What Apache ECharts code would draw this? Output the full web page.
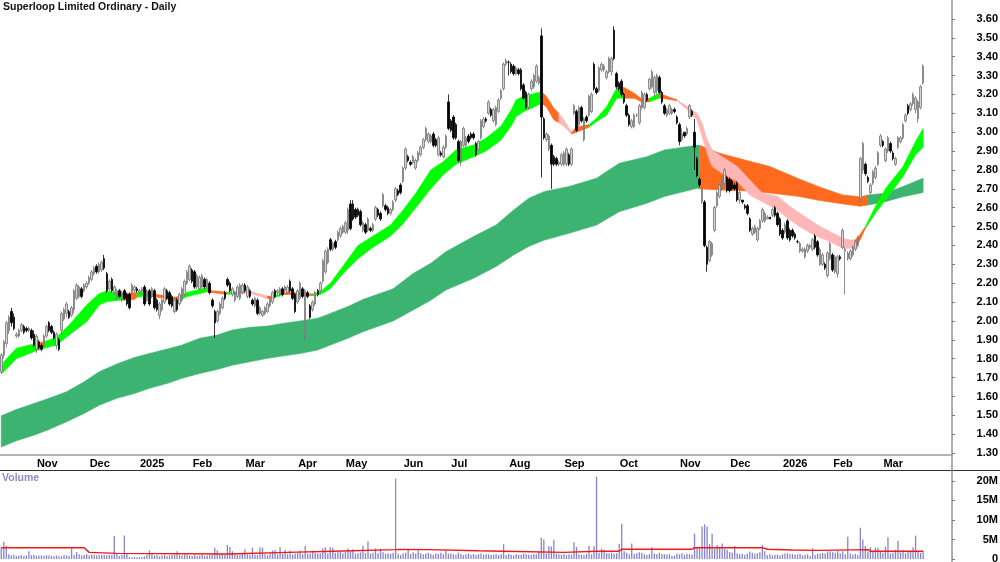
<!DOCTYPE html>
<html>
<head>
<meta charset="utf-8">
<style>html,body{margin:0;padding:0;background:#fff}#chart{width:1000px;height:562px}</style>
<script src="https://cdn.jsdelivr.net/npm/echarts@6/dist/echarts.min.js"></script>
</head>
<body>
<div id="chart"></div>
<script>
const monthLabels = ['Nov','Dec','2025','Feb','Mar','Apr','May','Jun','Jul','Aug','Sep','Oct','Nov','Dec','2026','Feb','Mar']
const monthBars = [13,34,54,75,96,117,136,159,178,201,223,245,269,289,310,330,350]
const priceTicks = [1.3,1.4,1.5,1.6,1.7,1.8,1.9,2.0,2.1,2.2,2.3,2.4,2.5,2.6,2.7,2.8,2.9,3.0,3.1,3.2,3.3,3.4,3.5,3.6]
const volumeTicks = [0,5,10,15,20]

// price bars, 20 a line
const opens = [
1.73,1.82,1.88,1.95,2.05,2.02,1.92,1.92,1.95,1.97,1.96,1.95,1.95,1.93,1.85,1.89,1.87,1.87,1.92,1.99,
1.97,1.94,1.87,1.90,1.95,2.01,2.04,2.05,2.03,2.06,2.12,2.13,2.17,2.16,2.18,2.20,2.22,2.25,2.29,2.26,
2.27,2.33,2.25,2.17,2.22,2.15,2.12,2.16,2.11,2.16,2.14,2.14,2.15,2.16,2.17,2.15,2.16,2.18,2.11,2.16,
2.13,2.16,2.11,2.03,2.06,2.10,2.16,2.15,2.13,2.05,2.11,2.09,2.11,2.14,2.20,2.22,2.27,2.26,2.18,2.17,
2.18,2.22,2.18,2.20,2.11,2.05,2.00,2.04,2.07,2.15,2.22,2.20,2.14,2.11,2.13,2.12,2.15,2.19,2.13,2.16,
2.11,2.08,2.11,2.04,2.03,2.04,2.05,2.08,2.10,2.16,2.15,2.14,2.17,2.16,2.15,2.21,2.17,2.14,2.10,2.12,
2.17,1.91,2.15,2.08,2.06,2.09,2.16,2.16,2.21,2.26,2.31,2.43,2.38,2.42,2.43,2.45,2.47,2.47,2.48,2.62,
2.62,2.59,2.59,2.58,2.48,2.51,2.48,2.49,2.48,2.54,2.59,2.57,2.61,2.61,2.60,2.57,2.59,2.64,2.69,2.72,
2.74,2.81,2.87,2.84,2.84,2.81,2.85,2.88,2.92,2.96,2.95,2.95,2.99,2.96,2.88,2.89,2.87,2.92,3.16,3.06,
3.08,3.04,2.95,2.84,2.93,2.93,2.98,2.99,2.99,2.94,2.91,2.97,3.03,3.07,3.10,3.12,3.06,3.04,3.11,3.18,
3.23,3.36,3.37,3.36,3.35,3.31,3.33,3.33,3.25,3.21,3.13,3.23,3.24,3.27,3.26,3.51,3.07,2.96,2.91,2.93,
2.87,2.86,2.83,2.83,2.83,2.83,2.88,2.83,3.10,3.11,3.04,3.13,2.96,3.08,3.09,3.11,3.36,3.23,3.22,3.33,
3.33,3.29,3.32,3.32,3.54,3.31,3.26,3.27,3.20,3.14,3.09,3.03,3.03,3.09,3.05,3.13,3.13,3.20,3.23,3.24,
3.21,3.22,3.29,3.21,3.14,3.09,3.10,3.10,3.12,3.08,3.04,2.96,3.00,2.99,3.08,3.11,3.00,2.86,2.75,2.63,
2.63,2.39,2.32,2.35,2.48,2.61,2.66,2.70,2.73,2.76,2.75,2.74,2.72,2.73,2.64,2.64,2.61,2.61,2.54,2.46,
2.47,2.43,2.49,2.53,2.53,2.54,2.55,2.56,2.60,2.57,2.54,2.48,2.47,2.53,2.48,2.48,2.46,2.42,2.37,2.37,
2.34,2.37,2.39,2.38,2.45,2.42,2.30,2.30,2.30,2.24,2.33,2.35,2.26,2.25,2.34,2.39,2.37,2.33,2.33,2.35,
2.38,2.40,2.65,2.80,2.83,2.76,2.68,2.73,2.76,2.83,2.93,2.95,2.85,2.90,2.94,2.89,2.83,2.92,2.95,2.97,
3.06,3.14,3.12,3.15,3.12,3.07,3.13,3.26]
const highs = [
1.83,1.90,2.00,2.03,2.07,2.04,1.94,1.96,1.99,1.98,1.97,1.97,1.96,1.95,1.93,1.90,1.88,1.93,1.98,2.00,
1.98,1.95,1.94,1.91,2.05,2.07,2.10,2.06,2.08,2.17,2.20,2.19,2.18,2.20,2.21,2.24,2.27,2.29,2.30,2.31,
2.32,2.35,2.26,2.22,2.23,2.19,2.17,2.17,2.16,2.17,2.15,2.15,2.20,2.19,2.18,2.17,2.18,2.19,2.17,2.17,
2.18,2.17,2.12,2.10,2.12,2.18,2.17,2.16,2.14,2.12,2.12,2.15,2.18,2.22,2.27,2.30,2.28,2.27,2.25,2.24,
2.25,2.23,2.23,2.21,2.12,2.06,2.06,2.10,2.13,2.16,2.23,2.21,2.18,2.16,2.19,2.20,2.20,2.20,2.19,2.17,
2.12,2.13,2.12,2.08,2.06,2.08,2.10,2.13,2.16,2.17,2.17,2.18,2.18,2.19,2.19,2.22,2.18,2.15,2.17,2.21,
2.18,2.17,2.16,2.09,2.11,2.16,2.17,2.21,2.33,2.38,2.39,2.44,2.42,2.43,2.48,2.50,2.51,2.53,2.60,2.64,
2.64,2.60,2.60,2.59,2.53,2.52,2.55,2.50,2.52,2.61,2.60,2.58,2.68,2.62,2.61,2.60,2.64,2.71,2.70,2.73,
2.82,2.92,2.88,2.85,2.88,2.86,2.90,2.93,2.97,3.03,3.00,2.99,3.00,2.97,2.98,2.90,2.93,2.99,3.20,3.07,
3.09,3.05,2.96,2.96,3.03,2.98,2.99,3.00,3.00,2.95,2.96,3.07,3.08,3.08,3.17,3.13,3.13,3.14,3.18,3.23,
3.37,3.39,3.38,3.37,3.36,3.35,3.34,3.34,3.26,3.22,3.21,3.28,3.31,3.36,3.30,3.55,3.08,3.00,2.99,2.94,
2.88,2.87,2.85,2.89,2.90,2.92,2.89,2.92,3.15,3.12,3.14,3.14,3.08,3.09,3.20,3.21,3.37,3.24,3.35,3.37,
3.36,3.33,3.40,3.40,3.56,3.32,3.27,3.28,3.21,3.15,3.10,3.07,3.10,3.10,3.15,3.22,3.21,3.21,3.29,3.33,
3.30,3.31,3.30,3.22,3.15,3.13,3.15,3.13,3.13,3.09,3.05,3.02,3.00,3.03,3.15,3.12,3.07,2.87,2.76,2.71,
2.64,2.40,2.43,2.42,2.61,2.69,2.73,2.77,2.81,2.77,2.76,2.75,2.73,2.74,2.69,2.64,2.62,2.62,2.55,2.50,
2.51,2.50,2.54,2.60,2.58,2.56,2.55,2.60,2.61,2.58,2.55,2.49,2.52,2.54,2.49,2.49,2.47,2.43,2.42,2.39,
2.39,2.41,2.41,2.44,2.46,2.43,2.39,2.36,2.31,2.37,2.42,2.36,2.35,2.35,2.35,2.49,2.39,2.37,2.38,2.40,
2.43,2.45,2.87,2.95,2.84,2.77,2.73,2.80,2.82,2.90,2.99,2.96,2.92,2.98,2.95,2.90,2.87,2.98,2.98,3.05,
3.10,3.15,3.16,3.21,3.19,3.17,3.25,3.36]
const lows = [
1.72,1.80,1.86,1.93,1.97,1.95,1.91,1.91,1.94,1.93,1.94,1.94,1.90,1.86,1.83,1.85,1.84,1.86,1.91,1.94,
1.93,1.90,1.85,1.84,1.93,2.00,2.02,2.01,2.02,2.04,2.11,2.12,2.12,2.15,2.17,2.19,2.21,2.24,2.25,2.25,
2.26,2.27,2.15,2.16,2.15,2.14,2.11,2.12,2.10,2.11,2.08,2.06,2.14,2.15,2.15,2.14,2.15,2.08,2.10,2.08,
2.12,2.06,2.05,2.01,2.05,2.09,2.11,2.08,2.07,2.04,2.05,2.08,2.10,2.13,2.19,2.21,2.20,2.17,2.17,2.16,
2.17,2.17,2.17,2.14,2.07,1.91,1.99,2.03,2.06,2.11,2.18,2.15,2.13,2.10,2.12,2.11,2.14,2.15,2.12,2.12,
2.08,2.07,2.03,2.03,2.02,2.03,2.04,2.07,2.09,2.12,2.14,2.13,2.13,2.15,2.14,2.15,2.11,2.04,2.09,2.11,
2.12,1.90,2.12,2.01,2.05,2.08,2.13,2.15,2.20,2.25,2.30,2.37,2.37,2.38,2.42,2.44,2.46,2.46,2.46,2.48,
2.53,2.54,2.55,2.50,2.47,2.46,2.47,2.47,2.47,2.53,2.55,2.53,2.60,2.58,2.56,2.56,2.58,2.63,2.66,2.67,
2.73,2.80,2.84,2.82,2.83,2.80,2.84,2.87,2.91,2.95,2.94,2.94,2.92,2.92,2.87,2.87,2.86,2.91,3.01,3.00,
2.96,2.96,2.84,2.82,2.92,2.92,2.94,2.96,2.96,2.87,2.90,2.96,3.02,3.05,3.09,3.08,3.05,3.03,3.10,3.17,
3.22,3.35,3.30,3.31,3.30,3.30,3.30,3.22,3.17,3.12,3.12,3.22,3.23,3.26,3.25,2.76,2.96,2.95,2.90,2.70,
2.82,2.82,2.82,2.82,2.82,2.82,2.82,2.82,3.09,3.00,3.03,3.05,2.95,3.05,3.08,3.10,3.22,3.20,3.21,3.32,
3.32,3.28,3.31,3.30,3.38,3.23,3.22,3.19,3.15,3.08,3.03,3.02,3.02,3.08,3.04,3.12,3.12,3.16,3.22,3.23,
3.19,3.20,3.20,3.15,3.09,3.08,3.09,3.09,3.10,3.04,2.93,2.95,2.97,2.98,3.07,3.08,2.80,2.76,2.71,2.62,
2.39,2.26,2.31,2.34,2.47,2.60,2.65,2.69,2.72,2.68,2.68,2.69,2.69,2.63,2.62,2.62,2.59,2.56,2.47,2.45,
2.46,2.42,2.48,2.52,2.52,2.54,2.54,2.55,2.55,2.50,2.45,2.43,2.46,2.43,2.42,2.44,2.43,2.41,2.36,2.36,
2.33,2.36,2.38,2.37,2.38,2.34,2.29,2.29,2.27,2.23,2.32,2.26,2.25,2.23,2.32,2.38,2.14,2.32,2.32,2.34,
2.37,2.39,2.63,2.78,2.77,2.73,2.67,2.72,2.75,2.82,2.92,2.92,2.84,2.89,2.89,2.85,2.82,2.91,2.94,2.96,
3.05,3.09,3.11,3.14,3.10,3.05,3.12,3.25]
const closes = [
1.82,1.89,1.99,2.02,1.99,1.96,1.93,1.95,1.98,1.94,1.95,1.96,1.91,1.87,1.92,1.86,1.85,1.92,1.97,1.95,
1.94,1.91,1.93,1.85,2.04,2.06,2.09,2.02,2.07,2.16,2.19,2.18,2.13,2.19,2.20,2.23,2.26,2.28,2.26,2.30,
2.31,2.28,2.16,2.21,2.16,2.18,2.16,2.13,2.15,2.12,2.09,2.07,2.19,2.18,2.16,2.16,2.17,2.09,2.16,2.09,
2.17,2.07,2.06,2.09,2.11,2.17,2.12,2.09,2.08,2.11,2.06,2.14,2.17,2.21,2.26,2.29,2.21,2.18,2.24,2.23,
2.24,2.18,2.22,2.15,2.08,1.99,2.05,2.09,2.12,2.12,2.19,2.16,2.17,2.15,2.18,2.19,2.19,2.16,2.18,2.13,
2.09,2.12,2.04,2.07,2.05,2.07,2.09,2.12,2.15,2.13,2.16,2.17,2.14,2.18,2.18,2.16,2.12,2.05,2.16,2.20,
2.13,2.16,2.13,2.02,2.10,2.15,2.14,2.20,2.32,2.37,2.38,2.38,2.41,2.39,2.47,2.49,2.50,2.52,2.59,2.49,
2.54,2.55,2.56,2.51,2.52,2.47,2.54,2.48,2.51,2.60,2.56,2.54,2.67,2.59,2.57,2.59,2.63,2.70,2.67,2.68,
2.81,2.91,2.85,2.83,2.87,2.85,2.89,2.92,2.96,3.02,2.99,2.98,2.93,2.93,2.97,2.88,2.92,2.98,3.02,3.01,
2.97,2.97,2.85,2.95,3.02,2.97,2.95,2.97,2.97,2.88,2.95,3.06,3.07,3.06,3.16,3.09,3.12,3.13,3.17,3.22,
3.36,3.38,3.37,3.32,3.31,3.34,3.31,3.23,3.18,3.13,3.20,3.27,3.30,3.35,3.29,3.08,2.97,2.99,2.98,2.83,
2.83,2.83,2.84,2.88,2.89,2.91,2.83,2.91,3.14,3.01,3.13,3.06,3.07,3.06,3.19,3.20,3.23,3.21,3.34,3.36,
3.35,3.32,3.39,3.39,3.39,3.24,3.23,3.20,3.16,3.09,3.04,3.06,3.09,3.09,3.14,3.21,3.20,3.17,3.28,3.32,
3.29,3.30,3.21,3.16,3.10,3.12,3.14,3.12,3.11,3.05,2.95,2.99,2.98,3.02,3.14,3.09,2.92,2.77,2.72,2.70,
2.40,2.30,2.42,2.41,2.60,2.68,2.72,2.76,2.80,2.69,2.69,2.70,2.70,2.64,2.68,2.63,2.60,2.57,2.48,2.49,
2.50,2.49,2.53,2.59,2.57,2.55,2.54,2.59,2.56,2.51,2.46,2.44,2.51,2.44,2.43,2.45,2.44,2.42,2.41,2.38,
2.38,2.40,2.40,2.43,2.39,2.35,2.38,2.35,2.28,2.36,2.41,2.27,2.34,2.34,2.33,2.48,2.38,2.36,2.37,2.39,
2.42,2.44,2.86,2.94,2.78,2.74,2.72,2.79,2.81,2.89,2.98,2.93,2.91,2.97,2.90,2.86,2.86,2.97,2.97,3.04,
3.09,3.10,3.15,3.20,3.18,3.16,3.24,3.35]

const volumes = [
3.0,4.4,3.4,1.2,0.9,1.1,0.8,0.9,1.0,0.8,0.9,2.0,1.0,1.1,0.8,0.9,0.9,0.8,1.0,0.9,
0.8,0.7,0.9,0.8,0.7,1.0,0.9,0.8,2.7,1.0,1.8,1.2,0.9,1.0,1.2,0.9,1.1,1.0,0.9,1.0,
1.1,1.0,0.9,1.1,1.0,5.9,1.2,0.8,1.0,6.0,1.4,0.5,0.4,0.5,0.4,0.5,0.6,0.7,1.0,2.2,
1.2,0.9,1.0,0.7,0.9,1.1,0.8,0.9,1.0,1.1,2.0,1.0,0.9,1.2,1.0,0.9,0.8,1.1,0.8,0.9,
1.0,0.8,0.9,1.0,1.1,2.9,2.2,1.1,1.3,1.0,3.6,3.1,2.0,1.2,1.0,1.1,1.3,2.5,1.2,1.0,
2.9,1.1,1.0,3.0,2.9,1.2,1.0,1.4,2.2,2.3,1.2,3.1,1.3,2.3,1.2,2.1,1.1,1.4,1.5,2.1,
1.2,3.3,1.3,1.4,2.2,1.6,1.4,1.5,2.7,3.0,1.5,3.0,2.8,1.6,1.7,1.8,1.5,1.8,2.7,2.0,
2.5,1.4,1.5,1.7,3.4,1.5,4.5,1.4,1.6,2.7,1.5,2.6,1.7,1.4,1.5,1.3,1.6,20.6,1.4,1.0,
1.5,1.6,2.4,1.3,1.7,1.4,2.2,1.5,1.2,1.4,1.6,1.3,1.1,1.5,1.3,1.6,1.2,2.2,1.4,1.5,
1.2,1.1,1.6,1.3,1.0,1.2,1.4,1.1,1.3,1.0,1.2,1.4,1.1,1.3,1.2,1.0,1.1,1.3,1.0,1.2,
3.8,1.0,1.3,1.1,0.9,1.2,1.0,1.1,1.4,1.2,1.1,1.0,1.3,1.2,1.9,5.5,5.0,1.4,3.3,3.2,
4.9,1.4,1.2,1.1,1.3,1.0,1.2,1.1,4.3,3.1,1.2,1.1,1.0,1.3,3.3,1.2,3.3,21.1,1.6,2.7,
2.4,1.5,1.4,1.6,1.3,1.5,3.9,9.0,2.0,1.6,1.2,4.0,1.3,1.5,1.7,1.6,1.2,1.0,1.2,3.0,
1.4,1.2,1.6,1.3,1.2,1.1,1.3,0.8,0.9,1.4,1.2,1.5,1.0,1.3,1.2,1.1,6.5,2.8,2.7,8.3,
8.9,8.3,3.8,6.5,2.6,3.6,2.8,4.0,2.6,2.4,1.8,1.6,3.3,1.5,1.2,1.3,1.1,1.4,1.9,1.6,
1.3,1.5,1.7,3.6,2.0,1.0,1.2,0.9,1.0,1.1,0.9,1.2,1.4,1.5,1.2,1.3,1.1,1.2,1.3,0.9,
1.0,1.2,0.8,2.7,1.0,1.3,1.4,1.6,1.5,1.9,2.0,1.7,1.6,2.1,1.5,2.0,1.2,5.7,1.4,1.1,
1.3,1.0,8.0,5.0,3.3,1.9,3.0,2.0,2.9,2.9,1.8,1.6,3.2,5.6,1.4,1.6,2.4,4.7,1.7,2.3,
1.5,1.9,2.1,3.0,6.0,1.8,1.6,2.0]
const avgVolumeBars = [0,33,35,46,90,118,132,157,158,170,190,200,224,237,246,247,275,276,303,305,315,325,345,346,367]
const avgVolumeValues = [2.9,2.9,1.7,1.45,1.3,1.75,2.0,2.4,2.45,2.4,2.1,2.0,1.7,2.0,2.0,2.5,2.5,2.9,2.9,2.5,2.3,2.2,2.4,2.0,2.0]

// fast and slow moving average bands; state 0 rising, 1 mixed, 2 falling
const fastBars = [0,1,6,13,15,17,22,27,34,39,42,47,49,53,54,56,59,64,68,71,74,82,84,90,95,99,106,108,112,116,124,127,131,136,142,148,155,160,165,171,176,181,188,193,199,203,205,208,212,215,217,220,222,224,227,229,234,237,241,245,248,252,255,258,261,262,265,269,273,277,279,281,283,287,293,298,303,309,314,319,325,330,335,338,340,342,344,348,352,359,364,367]
const fastUpper = [1.727,1.784,1.855,1.878,1.885,1.89,1.913,1.978,2.084,2.146,2.159,2.146,2.146,2.15,2.15,2.155,2.146,2.136,2.125,2.129,2.152,2.176,2.16,2.152,2.155,2.157,2.132,2.13,2.15,2.15,2.143,2.155,2.20,2.29,2.40,2.45,2.508,2.588,2.676,2.80,2.844,2.906,2.932,2.968,3.033,3.118,3.171,3.192,3.203,3.215,3.19,3.127,3.10,3.065,3.0,3.026,3.04,3.074,3.135,3.233,3.236,3.206,3.176,3.18,3.20,3.206,3.19,3.171,3.136,3.10,3.047,2.96,2.906,2.87,2.818,2.747,2.676,2.66,2.606,2.561,2.508,2.473,2.438,2.429,2.43,2.46,2.50,2.606,2.70,2.818,2.95,3.02]
const fastLower = [1.719,1.731,1.80,1.837,1.848,1.855,1.872,1.925,1.996,2.084,2.102,2.11,2.11,2.114,2.125,2.129,2.129,2.123,2.11,2.11,2.129,2.155,2.15,2.141,2.146,2.146,2.118,2.12,2.139,2.141,2.134,2.14,2.17,2.25,2.33,2.39,2.45,2.515,2.60,2.70,2.775,2.83,2.87,2.90,2.959,3.033,3.083,3.109,3.132,3.153,3.135,3.065,3.05,3.03,2.99,3.0,3.026,3.056,3.09,3.18,3.18,3.18,3.16,3.16,3.175,3.18,3.175,3.166,3.12,3.065,2.977,2.888,2.818,2.782,2.738,2.667,2.632,2.588,2.535,2.49,2.446,2.42,2.385,2.385,2.39,2.43,2.49,2.57,2.64,2.765,2.88,2.92]
const fastState = [0,0,0,0,1,0,0,0,0,0,0,0,1,1,0,0,1,1,1,0,0,1,1,0,2,2,1,0,1,1,0,0,0,0,0,0,0,0,0,0,0,0,0,0,0,0,0,0,0,1,1,1,2,2,1,1,0,0,0,0,1,1,1,0,0,1,1,2,2,2,2,2,2,2,2,2,2,2,2,2,2,2,2,2,1,1,0,0,0,0,0,0]
const slowBars = [0,6,13,19,26,33,39,46,53,59,66,72,79,86,92,99,106,112,119,126,131,138,144,156,164,171,177,188,197,204,210,216,226,237,246,257,264,277,278,286,295,306,317,326,335,342,345,352,359,367]
const slowUpper = [1.498,1.531,1.563,1.59,1.625,1.678,1.731,1.772,1.807,1.828,1.851,1.872,1.908,1.925,1.952,1.966,1.973,1.987,2.0,2.014,2.04,2.076,2.114,2.17,2.252,2.305,2.367,2.447,2.508,2.588,2.65,2.685,2.712,2.756,2.835,2.87,2.906,2.93,2.93,2.888,2.856,2.818,2.756,2.708,2.667,2.658,2.667,2.676,2.712,2.756]
const slowLower = [1.333,1.365,1.395,1.425,1.466,1.51,1.554,1.59,1.616,1.643,1.669,1.696,1.722,1.743,1.766,1.784,1.802,1.814,1.828,1.846,1.872,1.908,1.943,2.0,2.058,2.11,2.164,2.226,2.288,2.35,2.395,2.427,2.464,2.508,2.579,2.623,2.659,2.703,2.70,2.694,2.69,2.678,2.66,2.638,2.62,2.608,2.614,2.632,2.658,2.68]
const slowState = [0,0,0,0,0,0,0,0,0,0,0,0,0,0,0,0,0,0,0,0,0,0,0,0,0,0,0,0,0,0,0,0,0,0,0,0,0,0,1,1,1,1,1,1,1,1,0,0,0,0]

const fastColors = ['#00ff00', '#ff6a1f', '#ffb6b6']
const slowColors = ['#3cb371', '#ff6a1f']
const slotCount = 379

const dayLabels = []
for (let i = 0; i < slotCount; i++) {
    const m = monthBars.indexOf(i)
    dayLabels.push(m >= 0 ? monthLabels[m] : '')
}
const isMonth = (i) => monthBars.indexOf(i) >= 0

// one row per run of anchors sharing a state
function bandRuns(bars, state) {
    const rows = []
    let start = 0
    for (let i = 1; i < bars.length; i++) {
        if (i === bars.length - 1 || state[i] !== state[start]) {
            rows.push([bars[start], bars[i], state[start], start, i])
            start = i
        }
    }
    return rows
}

function bandSeries(bars, upper, lower, state, colors) {
    return {
        type: 'custom',
        xAxisIndex: 0,
        yAxisIndex: 0,
        silent: true,
        data: bandRuns(bars, state),
        renderItem(params, api) {
            const color = colors[api.value(2)]
            const first = api.value(3)
            const last = api.value(4)
            const points = []
            for (let i = first; i <= last; i++) points.push(api.coord([bars[i], upper[i]]))
            for (let i = last; i >= first; i--) points.push(api.coord([bars[i], lower[i]]))
            return {
                type: 'polygon',
                shape: { points: points },
                style: { fill: color, stroke: color, lineWidth: 0.6 }
            }
        }
    }
}

const labelStyle = { color: '#000', fontFamily: 'Liberation Sans', fontWeight: 'bold', fontSize: 11 }

const chart = echarts.init(document.getElementById('chart'), null, { renderer: 'canvas' })
chart.setOption({
    animation: false,
    backgroundColor: '#fff',
    textStyle: { fontFamily: 'Liberation Sans' },
    title: [
        { text: 'Superloop Limited Ordinary - Daily', left: 3, top: 2, padding: 0,
          textStyle: { color: '#111', fontFamily: 'Liberation Sans', fontWeight: 'bold', fontSize: 10.5 } },
        { text: 'Volume', left: 2, top: 473, padding: 0,
          textStyle: { color: '#8c8cc8', fontFamily: 'Liberation Sans', fontWeight: 'bold', fontSize: 10.5 } }
    ],
    graphic: [
        { type: 'line', silent: true, shape: { x1: 0, y1: 470.5, x2: 1000, y2: 470.5 }, style: { stroke: '#333', lineWidth: 1 } },
        { type: 'line', silent: true, shape: { x1: 952, y1: 0, x2: 952, y2: 562 }, style: { stroke: '#8c8c8c', lineWidth: 1.4 } }
    ],
    grid: [
        { left: 0, right: 48, top: 0, height: 455, outerBoundsMode: 'none' },
        { left: 0, right: 48, top: 470, height: 89, outerBoundsMode: 'none' }
    ],
    xAxis: [
        {
            type: 'category',
            gridIndex: 0,
            data: dayLabels,
            axisLine: { lineStyle: { color: '#999', width: 1.5 } },
            axisTick: { alignWithLabel: true, length: 3, interval: isMonth, lineStyle: { color: '#777' } },
            axisLabel: Object.assign({ interval: isMonth, align: 'left', margin: 3, padding: [0, 0, 0, 3], hideOverlap: false }, labelStyle),
            splitLine: { show: false }
        },
        {
            type: 'category',
            gridIndex: 1,
            data: dayLabels,
            axisLine: { show: false },
            axisTick: { show: false },
            axisLabel: { show: false },
            splitLine: { show: false }
        }
    ],
    yAxis: [
        {
            type: 'value',
            gridIndex: 0,
            position: 'right',
            min: 1.29,
            max: 3.7,
            axisLine: { show: false },
            axisTick: { show: true, length: 3, customValues: priceTicks, lineStyle: { color: '#777' } },
            axisLabel: Object.assign({ customValues: priceTicks, align: 'right', margin: 46, formatter: (v) => v.toFixed(2) }, labelStyle),
            splitLine: { show: false }
        },
        {
            type: 'value',
            gridIndex: 1,
            position: 'right',
            min: 0,
            max: 22.8,
            axisLine: { show: false },
            axisTick: { show: true, length: 3, customValues: volumeTicks, lineStyle: { color: '#777' } },
            axisLabel: Object.assign({ customValues: volumeTicks, align: 'right', margin: 46, formatter: (v) => (v ? v + 'M' : '0') }, labelStyle),
            splitLine: { show: false }
        }
    ],
    series: [
        bandSeries(slowBars, slowUpper, slowLower, slowState, slowColors),
        bandSeries(fastBars, fastUpper, fastLower, fastState, fastColors),
        {
            type: 'candlestick',
            xAxisIndex: 0,
            yAxisIndex: 0,
            barWidth: 2,
            silent: true,
            itemStyle: { color: '#d4d4d4', color0: '#000', borderColor: '#747474', borderColor0: '#000', borderWidth: 0.8 },
            data: closes.map((c, i) => [opens[i], c, lows[i], highs[i]])
        },
        {
            type: 'bar',
            xAxisIndex: 1,
            yAxisIndex: 1,
            barWidth: 1.3,
            silent: true,
            itemStyle: { color: '#8484d2' },
            data: volumes
        },
        {
            type: 'line',
            xAxisIndex: 1,
            yAxisIndex: 1,
            symbol: 'none',
            silent: true,
            lineStyle: { color: '#f01818', width: 1.4 },
            data: avgVolumeBars.map((b, i) => [b, avgVolumeValues[i]])
        }
    ]
})
</script>
</body>
</html>
